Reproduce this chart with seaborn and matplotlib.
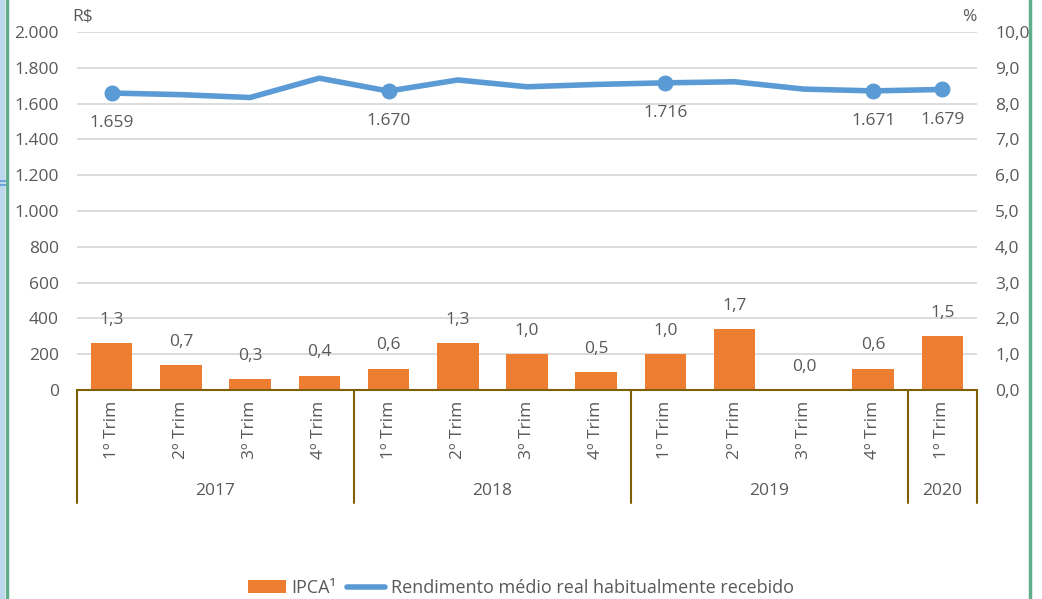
import numpy as np
import pandas as pd
import matplotlib
matplotlib.use("Agg")
import matplotlib.pyplot as plt
from matplotlib.lines import Line2D
from matplotlib.patches import Patch, Rectangle
import seaborn as sns

# ---- data ----
years = ["2017", "2017", "2017", "2017", "2018", "2018", "2018", "2018",
         "2019", "2019", "2019", "2019", "2020"]
quarters = ["1º Trim", "2º Trim", "3º Trim", "4º Trim",
            "1º Trim", "2º Trim", "3º Trim", "4º Trim",
            "1º Trim", "2º Trim", "3º Trim", "4º Trim",
            "1º Trim"]
ipca = [1.3, 0.7, 0.3, 0.4, 0.6, 1.3, 1.0, 0.5, 1.0, 1.7, 0.0, 0.6, 1.5]
rendimento = [1659, 1650, 1634, 1742, 1670, 1732, 1694, 1707, 1716, 1722, 1681, 1671, 1679]
labeled_points = [0, 4, 8, 11, 12]
year_groups = ["2017", "2018", "2019", "2020"]
left_ticks = [0, 200, 400, 600, 800, 1000, 1200, 1400, 1600, 1800, 2000]
right_ticks = [0, 1, 2, 3, 4, 5, 6, 7, 8, 9, 10]

sns.set_theme(style="white")
plt.rcParams["font.family"] = ["Open Sans", "DejaVu Sans"]

TXT = "#595959"
ORANGE = "#ED7D31"
BLUE = "#5B9BD5"
GOLD = "#7F6000"
GRID = "#D9D9D9"
FS = 12.5

def br(v, dec):
    s = f"{v:,.{dec}f}"
    return s.replace(",", "X").replace(".", ",").replace("X", ".")

df = pd.DataFrame({
    "periodo": [f"{y} {q}" for y, q in zip(years, quarters)],
    "pos": np.arange(len(years)),
    "ipca": ipca,
    "rend": rendimento,
})

fig = plt.figure(figsize=(10.42, 5.99), dpi=100)
ax = fig.add_axes([77 / 1042, 1 - 390 / 599, 900 / 1042, 358 / 599])
ax2 = ax.twinx()

# bars on right axis (with the grid, which aligns with both scales)
sns.barplot(data=df, x="periodo", y="ipca", ax=ax2, color=ORANGE,
            width=0.6, saturation=1, edgecolor="none")
ax2.set_ylim(0, 10)
ax2.set_yticks(right_ticks)
ax2.set_yticklabels([br(t, 1) for t in right_ticks], color=TXT, fontsize=FS)
ax2.tick_params(axis="y", length=0, pad=13)
ax2.set_ylabel("")
ax2.set_xlabel("")
ax2.yaxis.grid(True, color=GRID, linewidth=1.3)
ax2.set_axisbelow(True)
for i, v in enumerate(ipca):
    ax2.annotate(br(v, 1), (i, v), xytext=(0, 11), textcoords="offset points",
                 ha="center", va="bottom", color=TXT, fontsize=FS, zorder=10)

# line on left axis
sns.lineplot(data=df, x="pos", y="rend", ax=ax, color=BLUE, linewidth=4,
             solid_capstyle="round", legend=False)
sub = df.iloc[labeled_points]
ax.scatter(sub["pos"], sub["rend"], s=110, color=BLUE, zorder=5)
for _, r in sub.iterrows():
    ax.annotate(br(r["rend"], 0), (r["pos"], r["rend"]), xytext=(0, -16),
                textcoords="offset points", ha="center", va="top",
                color=TXT, fontsize=FS)

ax.set_ylim(0, 2000)
ax.set_xlim(-0.5, len(years) - 0.5)
ax.set_yticks(left_ticks)
ax.set_yticklabels([br(t, 0) for t in left_ticks], color=TXT, fontsize=FS)
ax.tick_params(axis="y", length=0, pad=13)
ax.set_ylabel("")
ax.set_xlabel("")
ax.set_zorder(ax2.get_zorder() + 1)
ax.patch.set_visible(False)

for a in (ax, ax2):
    for s in a.spines.values():
        s.set_visible(False)

ax.set_xticks(np.arange(len(years)))
ax.set_xticklabels(quarters, rotation=90, color=TXT, fontsize=FS)
ax.tick_params(axis="x", length=0, pad=8)
ax.set_xlim(-0.5, len(years) - 0.5)

# unit labels
ax.text(-5 / 900, 1.02, "R$", transform=ax.transAxes, ha="left", va="bottom",
        color=TXT, fontsize=FS)
ax.text(1.0, 1.02, "%", transform=ax.transAxes, ha="right", va="bottom",
        color=TXT, fontsize=FS)

# category axis: baseline, group separators, year labels
trans = ax.get_xaxis_transform()
ax.plot([-0.5, len(years) - 0.5], [0, 0], transform=trans, color=GOLD,
        linewidth=1.5, clip_on=False, zorder=6)
bounds = [-0.5]
for i in range(1, len(years)):
    if years[i] != years[i - 1]:
        bounds.append(i - 0.5)
bounds.append(len(years) - 0.5)
for b in bounds:
    ax.plot([b, b], [0, -0.316], transform=trans, color=GOLD, linewidth=1.5,
            clip_on=False)
for k, yr in enumerate(year_groups):
    c = (bounds[k] + bounds[k + 1]) / 2
    ax.text(c, -0.283, yr, transform=trans, ha="center", va="center",
            color=TXT, fontsize=FS)

# legend
handles = [Patch(facecolor=ORANGE, edgecolor="none"),
           Line2D([0], [0], color=BLUE, linewidth=4, solid_capstyle="round")]
fig.legend(handles, ["IPCA¹", "Rendimento médio real habitualmente recebido"],
           loc="center", bbox_to_anchor=(0.5, 11 / 599), ncol=2, frameon=False,
           fontsize=13, labelcolor=TXT, handlelength=2.1, handletextpad=0.3,
           columnspacing=0.6, handleheight=0.7)

# frame decoration
fig.patches.append(Rectangle((0, 0), 5 / 1042, 1, transform=fig.transFigure,
                             facecolor="#BDD7EE", edgecolor="none"))
for yy in (181, 185):
    fig.lines.append(Line2D([0, 6 / 1042], [1 - yy / 599, 1 - yy / 599],
                            transform=fig.transFigure, color="#5B9BD5", linewidth=1.2))
fig.lines.append(Line2D([7 / 1042, 7 / 1042], [0, 1], transform=fig.transFigure,
                        color="#5FAD8A", linewidth=2.5))
fig.lines.append(Line2D([1030 / 1042, 1030 / 1042], [0, 1], transform=fig.transFigure,
                        color="#5FAD8A", linewidth=2.5))

fig.savefig("out.png", dpi=100)
